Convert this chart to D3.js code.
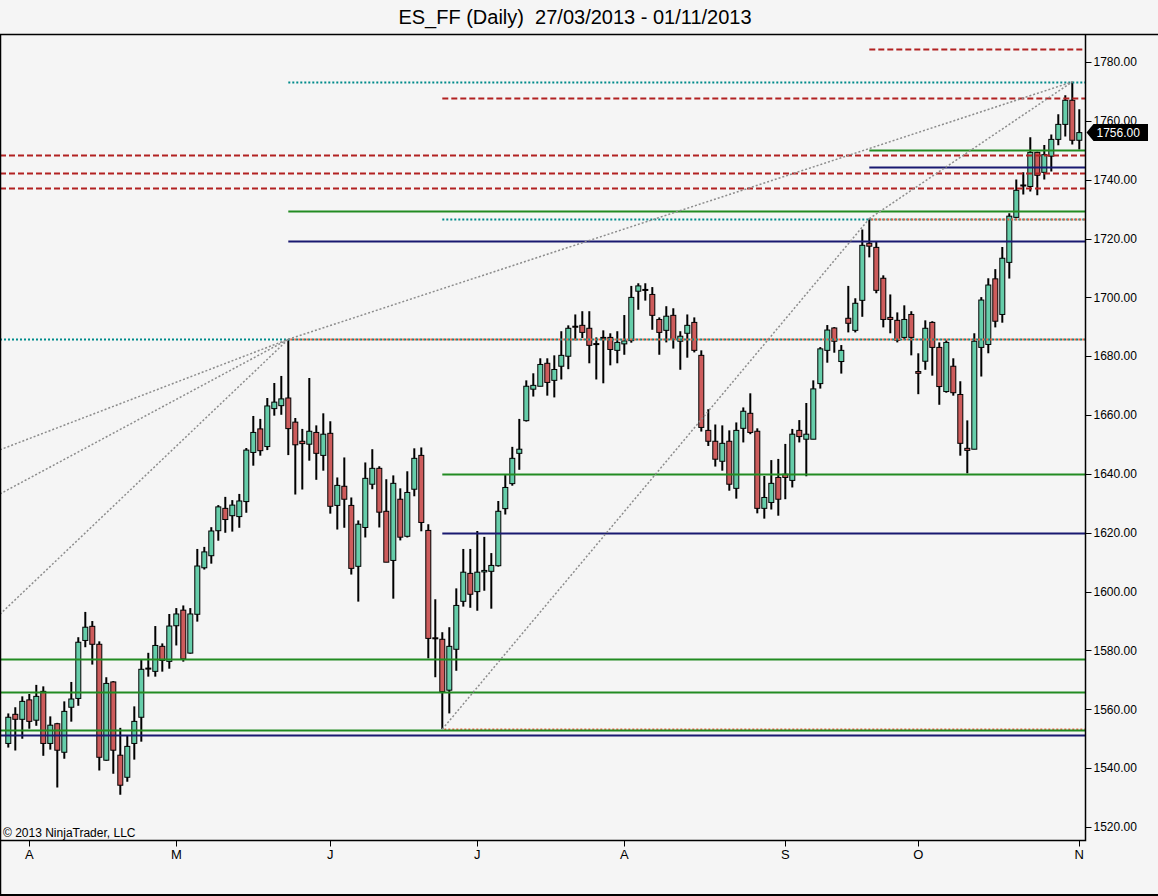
<!DOCTYPE html>
<html>
<head>
<meta charset="utf-8">
<script src="https://cdn.jsdelivr.net/npm/d3@7"></script>
<style>
  body { margin: 0; background: #f5f5f5; }
  text { font-family: "Liberation Sans", Arial, sans-serif; }
</style>
</head>
<body>
<div id="chart"></div>
<script>
// data (one daily bar per entry, 27/03/2013 .. 01/11/2013)

const opens = [
  1548.4, 1558.3, 1556.6, 1563.2, 1556.3, 1566.1, 1548.4, 1555.1, 1545.4, 1560.7,
  1563.7, 1583.4, 1588.2, 1582.1, 1542.7, 1569.3, 1544.4, 1536.9, 1548.4, 1557.3,
  1574.0, 1572.9, 1581.4, 1576.3, 1588.4, 1593.7, 1579.1, 1592.3, 1608.1, 1612.2,
  1620.7, 1628.3, 1625.8, 1625.5, 1630.6, 1647.3, 1655.3, 1649.3, 1662.2, 1663.2,
  1665.8, 1657.6, 1651.1, 1650.1, 1654.1, 1646.3, 1653.8, 1629.3, 1635.8, 1629.3,
  1608.6, 1621.8, 1636.5, 1641.9, 1627.3, 1610.6, 1631.4, 1618.8, 1634.8, 1646.3,
  1620.8, 1584.3, 1583.8, 1566.5, 1580.4, 1596.7, 1606.2, 1600.0, 1606.7, 1606.9,
  1608.8, 1628.2, 1636.7, 1647.0, 1658.1, 1668.8, 1669.8, 1677.6, 1671.8, 1676.6,
  1680.0, 1690.2, 1690.5, 1689.5, 1684.3, 1686.4, 1686.4, 1682.0, 1684.2, 1685.3,
  1702.1, 1702.7, 1701.0, 1692.5, 1688.8, 1693.9, 1685.1, 1687.8, 1691.5, 1680.3,
  1654.8, 1651.1, 1644.3, 1651.1, 1635.1, 1655.5, 1660.6, 1654.5, 1628.3, 1630.3,
  1638.8, 1639.9, 1637.8, 1654.8, 1651.8, 1651.8, 1670.7, 1682.0, 1689.6, 1678.2,
  1692.9, 1688.8, 1699.0, 1718.4, 1717.0, 1706.5, 1693.2, 1692.2, 1686.4, 1694.2,
  1674.8, 1678.3, 1691.5, 1683.0, 1668.0, 1676.6, 1667.0, 1648.7, 1648.4, 1683.0,
  1684.0, 1706.3, 1694.2, 1711.9, 1727.2, 1738.2, 1737.7, 1749.3, 1742.5, 1748.0,
  1753.7, 1758.8, 1767.0, 1753.4
];
const highs = [
  1558.6, 1560.7, 1564.4, 1565.2, 1568.3, 1567.8, 1557.6, 1555.4, 1562.7, 1569.3,
  1584.5, 1593.1, 1590.0, 1583.1, 1570.9, 1569.6, 1553.7, 1551.0, 1561.0, 1576.8,
  1579.2, 1588.3, 1582.4, 1592.4, 1594.4, 1595.3, 1594.4, 1614.5, 1615.2, 1621.9,
  1629.4, 1632.2, 1631.1, 1633.2, 1648.8, 1659.7, 1658.7, 1665.8, 1670.9, 1673.3,
  1685.75, 1659.0, 1655.3, 1672.6, 1656.5, 1660.6, 1657.9, 1638.8, 1645.6, 1632.0,
  1624.2, 1643.9, 1648.4, 1642.6, 1638.2, 1639.5, 1635.1, 1640.9, 1648.7, 1649.0,
  1622.9, 1597.4, 1586.2, 1587.9, 1601.1, 1614.5, 1614.5, 1620.6, 1618.6, 1613.1,
  1630.8, 1639.6, 1649.2, 1658.7, 1671.8, 1674.2, 1679.3, 1679.3, 1680.3, 1688.5,
  1690.5, 1694.2, 1695.3, 1695.3, 1686.4, 1688.8, 1687.8, 1688.5, 1694.0, 1703.9,
  1704.8, 1704.8, 1703.5, 1693.2, 1697.0, 1696.3, 1688.5, 1694.2, 1693.2, 1682.0,
  1662.0, 1656.8, 1656.5, 1654.8, 1657.5, 1662.6, 1667.4, 1655.5, 1639.3, 1644.7,
  1645.1, 1650.2, 1655.3, 1658.3, 1664.1, 1671.8, 1683.1, 1690.6, 1689.9, 1683.8,
  1703.9, 1699.7, 1723.1, 1726.75, 1719.1, 1707.5, 1701.0, 1694.9, 1697.3, 1695.3,
  1681.0, 1692.2, 1691.9, 1684.7, 1685.4, 1679.3, 1671.5, 1658.2, 1687.8, 1700.1,
  1706.5, 1709.6, 1717.1, 1728.6, 1740.1, 1742.5, 1754.4, 1749.5, 1751.8, 1755.4,
  1762.2, 1768.7, 1773.25, 1763.9
];
const lows = [
  1547.0, 1546.0, 1550.0, 1553.4, 1554.4, 1544.2, 1546.3, 1533.4, 1543.2, 1555.8,
  1561.2, 1581.1, 1575.2, 1539.2, 1542.5, 1538.1, 1531.0, 1535.4, 1542.9, 1549.0,
  1571.1, 1571.1, 1572.8, 1573.8, 1581.7, 1576.2, 1578.9, 1589.8, 1607.5, 1609.5,
  1617.3, 1620.0, 1620.4, 1621.7, 1626.8, 1642.8, 1646.2, 1648.1, 1659.8, 1660.1,
  1646.4, 1633.0, 1634.7, 1644.5, 1638.0, 1641.1, 1626.5, 1621.1, 1621.7, 1605.8,
  1596.6, 1618.4, 1634.8, 1621.8, 1610.0, 1597.6, 1617.4, 1618.4, 1632.4, 1620.5,
  1577.3, 1570.9, 1553.25, 1558.6, 1573.1, 1594.9, 1594.5, 1593.5, 1600.3, 1594.2,
  1608.5, 1626.2, 1636.0, 1641.4, 1657.8, 1666.3, 1669.8, 1666.6, 1666.0, 1672.1,
  1675.6, 1685.4, 1686.2, 1677.6, 1672.1, 1670.8, 1676.9, 1677.6, 1680.5, 1684.6,
  1695.8, 1698.9, 1689.0, 1680.5, 1684.7, 1682.6, 1675.4, 1679.5, 1681.3, 1654.4,
  1649.5, 1642.5, 1641.1, 1634.3, 1631.6, 1650.7, 1653.5, 1626.6, 1624.8, 1627.9,
  1625.8, 1631.4, 1635.4, 1650.7, 1639.2, 1651.8, 1669.0, 1677.8, 1681.2, 1674.1,
  1688.1, 1688.1, 1693.4, 1713.6, 1701.4, 1689.8, 1687.8, 1684.7, 1685.7, 1680.3,
  1667.1, 1675.4, 1673.4, 1663.5, 1667.6, 1666.6, 1646.2, 1640.2, 1648.4, 1673.1,
  1681.0, 1689.8, 1691.4, 1706.4, 1726.9, 1735.0, 1736.0, 1734.7, 1740.1, 1742.8,
  1751.7, 1754.7, 1752.0, 1750.3
];
const closes = [
  1557.3, 1556.6, 1562.7, 1555.9, 1564.4, 1548.4, 1554.6, 1546.1, 1559.3, 1563.5,
  1582.8, 1587.9, 1582.1, 1543.7, 1568.8, 1546.1, 1534.2, 1547.4, 1555.9, 1573.6,
  1573.75, 1581.7, 1576.6, 1588.3, 1592.4, 1577.1, 1592.4, 1608.7, 1613.5, 1620.6,
  1628.8, 1624.5, 1629.4, 1630.8, 1648.1, 1654.1, 1647.9, 1663.1, 1664.4, 1665.5,
  1655.4, 1649.9, 1650.3, 1654.5, 1647.0, 1653.5, 1629.0, 1636.1, 1631.4, 1607.9,
  1622.9, 1638.5, 1641.9, 1627.0, 1610.0, 1636.8, 1618.5, 1633.7, 1645.3, 1623.5,
  1584.1, 1584.1, 1566.0, 1581.4, 1595.3, 1606.6, 1599.1, 1606.6, 1607.2, 1608.9,
  1627.3, 1635.4, 1645.3, 1648.4, 1669.8, 1670.1, 1677.2, 1671.1, 1675.5, 1680.3,
  1689.5, 1690.0, 1688.1, 1683.7, 1684.2, 1686.2, 1682.3, 1684.7, 1685.2, 1700.0,
  1703.9, 1702.6, 1693.9, 1688.1, 1693.6, 1685.7, 1686.8, 1690.5, 1682.0, 1655.8,
  1651.1, 1645.0, 1650.4, 1636.5, 1654.8, 1661.3, 1654.1, 1628.3, 1632.0, 1636.8,
  1631.4, 1638.8, 1653.5, 1652.7, 1653.5, 1668.9, 1682.5, 1688.9, 1685.1, 1682.0,
  1691.2, 1698.0, 1717.7, 1717.4, 1702.4, 1692.5, 1692.5, 1685.4, 1692.5, 1686.4,
  1674.2, 1689.5, 1683.0, 1669.7, 1684.7, 1667.6, 1650.4, 1648.0, 1685.1, 1699.1,
  1704.2, 1691.9, 1713.3, 1727.6, 1736.4, 1738.0, 1749.3, 1741.5, 1748.5, 1753.7,
  1758.8, 1767.0, 1753.4, 1756.0
];

// month labels and the bar each one sits on
const monthLabels = ["A", "M", "J", "J", "A", "S", "O", "N"];
const monthBars = [3, 24, 46, 67, 88, 111, 130, 153];

// price axis ticks
const priceTicks = d3.range(1520, 1781, 20);

// horizontal levels: price, first bar (null = whole chart), kind
const levelPrices = [1784.5, 1773.25, 1767.9, 1750.2, 1748.5, 1744.4, 1742.4, 1737.3,
  1729.5, 1726.75, 1726.75, 1719.2, 1685.75, 1685.75, 1640, 1620, 1577, 1566,
  1553.25, 1553, 1551.4];
const levelStarts = [123, 40, 62, 123, null, 123, null, null,
  40, 62, 123, 40, null, 40, 62, 62, null, null,
  62, null, null];
const levelKinds = ["resist", "pivot", "resist", "support", "resist", "base", "resist", "resist",
  "support", "pivot", "swing", "base", "pivot", "swing", "support", "base", "support", "support",
  "swing", "support", "base"];

// trend / fan lines: [bar, price] -> [bar, price]
const fanFrom = [[40, 1685.75], [123, 1726.75], [62, 1553.25],
  [-1.19, 1648.2], [-1.19, 1633.2], [-1.19, 1592.3]];
const fanTo = [[152, 1773.25], [152, 1773.25], [123, 1726.75],
  [40, 1685.75], [40, 1685.75], [40, 1685.75]];

const lastPrice = 1756.00;

// layout
const width = 1158;
const height = 896;
const plotLeft = 0;
const plotRight = 1085.5;
const plotTop = 34.5;
const plotBottom = 840.5;

const x = d3.scaleLinear().domain([0, 153]).range([8.3, 1079.3]);
const y = d3.scaleLinear().domain([1520, 1780]).range([827, 62]);

const levelStyle = {
  resist:  { stroke: "#b22222", dash: "6,3", offset: 0 },
  pivot:   { stroke: "#008b8b", dash: "2,2", offset: 0 },
  swing:   { stroke: "#f0603e", dash: "2,2", offset: 2 },
  support: { stroke: "#228b22", dash: null, offset: 0 },
  base:    { stroke: "#191970", dash: null, offset: 0 }
};

const svg = d3.select("#chart").append("svg")
  .attr("width", width).attr("height", height)
  .style("display", "block");

svg.append("rect").attr("width", width).attr("height", height).attr("fill", "#f5f5f5");

// title
svg.append("text")
  .attr("x", 575).attr("y", 23.5)
  .attr("text-anchor", "middle")
  .attr("font-size", 20)
  .attr("fill", "#000")
  .attr("xml:space", "preserve")
  .text("ES_FF (Daily)  27/03/2013 - 01/11/2013");

// clip for everything inside the price panel
svg.append("clipPath").attr("id", "plot")
  .append("rect")
  .attr("x", plotLeft).attr("y", plotTop)
  .attr("width", plotRight - plotLeft).attr("height", plotBottom - plotTop);

const plot = svg.append("g").attr("clip-path", "url(#plot)");

// candles
const bars = d3.range(opens.length);
const candle = plot.append("g").attr("class", "candles")
  .selectAll("g").data(bars).join("g");

candle.append("line")
  .attr("x1", i => x(i)).attr("x2", i => x(i))
  .attr("y1", i => y(highs[i])).attr("y2", i => y(lows[i]))
  .attr("stroke", "#000").attr("stroke-width", 2);

candle.append("rect")
  .attr("x", i => x(i) - 2.5)
  .attr("width", 5)
  .attr("y", i => y(Math.max(opens[i], closes[i])))
  .attr("height", i => Math.max(1, Math.abs(y(opens[i]) - y(closes[i]))))
  .attr("fill", i => closes[i] > opens[i] ? "#66cdaa" : closes[i] < opens[i] ? "#cd5c5c" : "#000")
  .attr("stroke", "#000").attr("stroke-width", 1);

// horizontal levels
plot.append("g").attr("class", "levels")
  .selectAll("line").data(levelPrices).join("line")
  .attr("x1", (d, i) => levelStarts[i] === null ? plotLeft : x(levelStarts[i]))
  .attr("x2", plotRight)
  .attr("y1", d => Math.round(y(d)) + 0.5)
  .attr("y2", d => Math.round(y(d)) + 0.5)
  .attr("stroke", (d, i) => levelStyle[levelKinds[i]].stroke)
  .attr("stroke-width", 2)
  .attr("stroke-dasharray", (d, i) => levelStyle[levelKinds[i]].dash)
  .attr("stroke-dashoffset", (d, i) => levelStyle[levelKinds[i]].offset);

// fan lines
plot.append("g").attr("class", "fans")
  .selectAll("line").data(fanFrom).join("line")
  .attr("x1", d => x(d[0])).attr("y1", d => y(d[1]))
  .attr("x2", (d, i) => x(fanTo[i][0])).attr("y2", (d, i) => y(fanTo[i][1]))
  .attr("stroke", "#8c8c8c")
  .attr("stroke-width", 1.5)
  .attr("stroke-dasharray", "2,2");

// frame
svg.append("path")
  .attr("d", `M0.5,${height - 0.5}V${plotTop}H${width}`)
  .attr("fill", "none").attr("stroke", "#000").attr("stroke-width", 1.5);
svg.append("path")
  .attr("d", `M0,${height - 1}H${width}`)
  .attr("fill", "none").attr("stroke", "#000").attr("stroke-width", 2);
svg.append("path")
  .attr("d", `M0,${plotBottom}H${plotRight}V${plotTop}`)
  .attr("fill", "none").attr("stroke", "#000").attr("stroke-width", 1.5);

// price axis
const yAxis = svg.append("g").attr("class", "y-axis");
yAxis.selectAll("line").data(priceTicks).join("line")
  .attr("x1", plotRight).attr("x2", plotRight + 6)
  .attr("y1", d => Math.round(y(d)) + 0.5).attr("y2", d => Math.round(y(d)) + 0.5)
  .attr("stroke", "#000");
yAxis.selectAll("text").data(priceTicks).join("text")
  .attr("x", plotRight + 8)
  .attr("y", d => y(d))
  .attr("dy", "0.35em")
  .attr("font-size", 12)
  .attr("fill", "#000")
  .text(d => d3.format(".2f")(d));

// last price marker
const ly = y(lastPrice);
svg.append("path")
  .attr("d", `M${plotRight + 1},${ly}L${plotRight + 8},${ly - 8.5}H1148V${ly + 8.5}H${plotRight + 8}Z`)
  .attr("fill", "#000");
svg.append("text")
  .attr("x", plotRight + 11).attr("y", ly).attr("dy", "0.36em")
  .attr("font-size", 12).attr("fill", "#fff")
  .text(d3.format(".2f")(lastPrice));

// time axis
const xAxis = svg.append("g").attr("class", "x-axis");
xAxis.selectAll("line").data(monthBars).join("line")
  .attr("x1", d => Math.round(x(d)) + 0.5).attr("x2", d => Math.round(x(d)) + 0.5)
  .attr("y1", plotBottom).attr("y2", plotBottom + 6)
  .attr("stroke", "#000");
xAxis.selectAll("text").data(monthBars).join("text")
  .attr("x", d => x(d))
  .attr("y", 859)
  .attr("text-anchor", "middle")
  .attr("font-size", 13)
  .attr("fill", "#000")
  .text((d, i) => monthLabels[i]);

// copyright
svg.append("text")
  .attr("x", 3).attr("y", 837)
  .attr("font-size", 12)
  .attr("fill", "#000")
  .text("\u00a9 2013 NinjaTrader, LLC");
</script>
</body>
</html>
